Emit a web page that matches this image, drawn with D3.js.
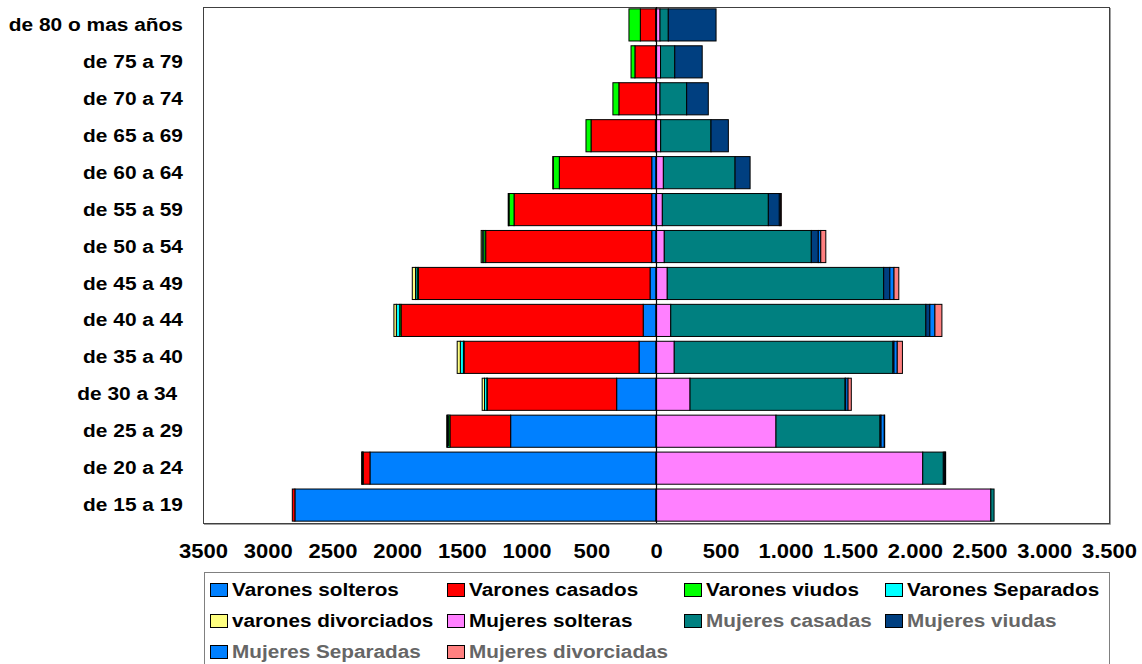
<!DOCTYPE html>
<html>
<head>
<meta charset="utf-8">
<script src="https://cdn.jsdelivr.net/npm/d3@7"></script>
<style>
  html, body { margin: 0; padding: 0; background: #fff; }
  svg { display: block; font-family: "Liberation Sans", Arial, sans-serif; font-weight: bold; }
</style>
</head>
<body>
<svg id="chart" width="1142" height="664"></svg>
<script>
const categories = ["de 80 o mas años","de 75 a 79","de 70 a 74","de 65 a 69","de 60 a 64","de 55 a 59","de 50 a 54","de 45 a 49","de 40 a 44","de 35 a 40","de 30 a 34 ","de 25 a 29","de 20 a 24","de 15 a 19"];

const varonesSolteros    = [3, 3, 3, 5, 33, 33, 33, 46, 99, 131, 304, 1123, 2210, 2790];
const varonesCasados     = [118, 160, 284, 497, 714, 1064, 1283, 1790, 1871, 1352, 1000, 469, 52, 20];
const varonesViudos      = [88, 30, 46, 39, 46, 39, 15, 10, 10, 5, 3, 10, 5, 0];
const varonesSeparados   = [0, 0, 0, 0, 2, 3, 12, 12, 26, 24, 18, 8, 5, 0];
const varonesDivorciados = [0, 0, 0, 0, 2, 3, 8, 25, 19, 24, 18, 7, 2, 0];

const mujeresSolteras    = [31, 35, 31, 36, 57, 49, 64, 87, 114, 141, 263, 927, 2061, 2587];
const mujeresCasadas     = [64, 110, 206, 389, 554, 819, 1136, 1672, 1971, 1690, 1198, 804, 159, 25];
const mujeresViudas      = [369, 212, 167, 134, 116, 85, 54, 48, 31, 8, 5, 8, 10, 0];
const mujeresSeparadas   = [0, 0, 0, 0, 0, 10, 19, 32, 39, 25, 18, 25, 5, 0];
const mujeresDivorciadas = [0, 0, 0, 0, 0, 5, 39, 37, 54, 40, 25, 3, 3, 0];

const tickValues = [-3500,-3000,-2500,-2000,-1500,-1000,-500,0,500,1000,1500,2000,2500,3000,3500];

const maleSeries = [
  {name: "Varones solteros", values: varonesSolteros, color: "#0080ff", text: "#000"},
  {name: "Varones casados", values: varonesCasados, color: "#ff0000", text: "#000"},
  {name: "Varones viudos", values: varonesViudos, color: "#00ff00", text: "#000"},
  {name: "Varones Separados", values: varonesSeparados, color: "#00ffff", text: "#000"},
  {name: "varones divorciados", values: varonesDivorciados, color: "#ffff80", text: "#000"}
];
const femaleSeries = [
  {name: "Mujeres solteras", values: mujeresSolteras, color: "#ff80ff", text: "#000"},
  {name: "Mujeres casadas", values: mujeresCasadas, color: "#008080", text: "#666"},
  {name: "Mujeres viudas", values: mujeresViudas, color: "#003f80", text: "#666"},
  {name: "Mujeres Separadas", values: mujeresSeparadas, color: "#0080ff", text: "#666"},
  {name: "Mujeres divorciadas", values: mujeresDivorciadas, color: "#ff8080", text: "#666"}
];

const svg = d3.select("#chart");
const plot = {left: 203, right: 1109, top: 7, bottom: 523};
const FONT = "Liberation Sans, Arial, sans-serif";

const x = d3.scaleLinear().domain([-3500, 3500]).range([plot.left, plot.right]);
const y = d3.scaleBand().domain(categories).range([plot.top, plot.bottom]).paddingInner(0.13).paddingOuter(0.05);

// plot frame
svg.append("rect")
  .attr("x", plot.left + 0.5).attr("y", plot.top + 0.5)
  .attr("width", plot.right - plot.left).attr("height", plot.bottom - plot.top)
  .attr("fill", "#fff").attr("stroke", "#404040").attr("stroke-width", 1);
svg.append("path")
  .attr("d", `M${plot.right + 1.5},${plot.top + 1} V${plot.bottom + 1.5} H${plot.left + 1}`)
  .attr("fill", "none").attr("stroke", "#a0a0a0").attr("stroke-width", 1);

function stackSide(series, sign) {
  const g = svg.append("g");
  categories.forEach((cat, i) => {
    let acc = 0;
    series.forEach(s => {
      const v = s.values[i];
      const x0 = x(sign * acc), x1 = x(sign * (acc + v));
      g.append("rect")
        .attr("x", Math.min(x0, x1)).attr("y", y(cat))
        .attr("width", Math.abs(x1 - x0)).attr("height", y.bandwidth())
        .attr("fill", s.color).attr("stroke", "#000").attr("stroke-width", 1);
      acc += v;
    });
  });
}
stackSide(maleSeries, -1);
stackSide(femaleSeries, 1);

// zero line
svg.append("line")
  .attr("x1", Math.round(x(0)) + 0.5).attr("x2", Math.round(x(0)) + 0.5)
  .attr("y1", plot.top).attr("y2", plot.bottom)
  .attr("stroke", "#000").attr("stroke-width", 1.2);

// x axis
const loc = d3.formatLocale({decimal: ",", thousands: ".", grouping: [3], currency: ["", ""]});
const fmtPos = loc.format(",d");
const xAxis = d3.axisBottom(x).tickValues(tickValues).tickSize(0)
  .tickFormat(d => d < 0 ? String(-d) : (d === 0 ? "0" : fmtPos(d)));
const gx = svg.append("g").attr("transform", `translate(0,558)`).call(xAxis);
gx.select(".domain").remove();
gx.selectAll("text").attr("y", 0).attr("dy", 0)
  .attr("font-size", 20).attr("font-weight", "bold")
  .attr("font-family", FONT).attr("fill", "#000")
  .attr("transform", "scale(1.1,1)");

// y axis
const yAxis = d3.axisLeft(y).tickSize(0).tickPadding(0);
const gy = svg.append("g").attr("transform", `translate(183,0)`).call(yAxis);
gy.select(".domain").remove();
gy.selectAll("text").attr("font-size", 19).attr("font-weight", "bold")
  .attr("font-family", FONT).attr("fill", "#000")
  .attr("transform", "scale(1.1,1)")
  .style("white-space", "pre").attr("xml:space", "preserve");

// legend
const legendItems = [...maleSeries, ...femaleSeries];
const legendCols = [210, 447, 684, 885];
const legendRows = [590, 621, 652];
svg.append("rect")
  .attr("x", 204.5).attr("y", 572.5).attr("width", 905).attr("height", 120)
  .attr("fill", "#fff").attr("stroke", "#808080").attr("stroke-width", 1);
const lg = svg.append("g");
legendItems.forEach((s, i) => {
  const cx = legendCols[i % 4], cy = legendRows[Math.floor(i / 4)];
  lg.append("rect").attr("x", cx + 0.5).attr("y", cy - 6.5).attr("width", 17).attr("height", 13)
    .attr("fill", s.color).attr("stroke", "#000").attr("stroke-width", 1);
  lg.append("g").attr("transform", `translate(${cx + 22},${cy})`)
    .append("text").attr("dy", "0.35em").attr("transform", "scale(1.12,1)")
    .attr("font-size", 18.5).attr("fill", s.text).text(s.name);
});
</script>
</body>
</html>
